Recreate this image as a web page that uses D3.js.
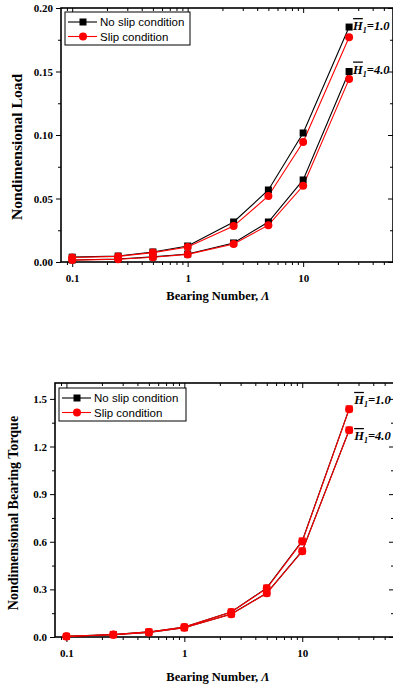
<!DOCTYPE html>
<html>
<head>
<meta charset="utf-8">
<script src="https://cdn.jsdelivr.net/npm/d3@7/dist/d3.min.js"></script>
<style>
  body { margin: 0; background: #fff; }
  svg { display: block; }
  .tick-label { font-family: "Liberation Serif", serif; font-weight: bold; font-size: 11px; fill: #000; }
  .axis-title { font-family: "Liberation Serif", serif; font-weight: bold; font-size: 12.5px; fill: #000; }
  .legend-text { font-family: "Liberation Sans", Arial, sans-serif; font-size: 11.5px; fill: #000; }
  .note { font-family: "Liberation Serif", serif; font-weight: bold; font-style: italic; font-size: 12.5px; fill: #000; }
</style>
</head>
<body>
<svg id="chart" width="393" height="685"></svg>
<script>
// Bearing numbers (x, log scale)
var bearingNumber = [0.1, 0.25, 0.5, 1, 2.5, 5, 10, 25];

// Nondimensional load
var loadNoSlipH1 = [0.0038, 0.0047, 0.0079, 0.0126, 0.0315, 0.0567, 0.1016, 0.185];
var loadSlipH1   = [0.0035, 0.0044, 0.0074, 0.0118, 0.0283, 0.052, 0.0945, 0.177];
var loadNoSlipH4 = [0.0016, 0.0024, 0.004, 0.0063, 0.015, 0.0315, 0.0646, 0.150];
var loadSlipH4   = [0.0015, 0.0022, 0.0037, 0.006, 0.0142, 0.029, 0.060, 0.144];

// Nondimensional bearing torque
var torqueNoSlipH1 = [0.004, 0.016, 0.032, 0.063, 0.158, 0.309, 0.605, 1.437];
var torqueSlipH1   = [0.004, 0.016, 0.032, 0.063, 0.157, 0.307, 0.602, 1.435];
var torqueNoSlipH4 = [0.003, 0.014, 0.029, 0.058, 0.145, 0.277, 0.542, 1.304];
var torqueSlipH4   = [0.003, 0.014, 0.029, 0.058, 0.144, 0.275, 0.540, 1.302];

var xTicks = [0.1, 1, 10];
var xTickLabels = ['0.1', '1', '10'];
var loadTicks = [0, 0.05, 0.10, 0.15, 0.20];
var loadTickLabels = ['0.00', '0.05', '0.10', '0.15', '0.20'];
var torqueTicks = [0, 0.3, 0.6, 0.9, 1.2, 1.5];
var torqueTickLabels = ['0.0', '0.3', '0.6', '0.9', '1.2', '1.5'];

var legendLabels = ['No slip condition', 'Slip condition'];

var svg = d3.select('#chart');

// minor ticks on the log axis: 2..9 of every decade inside the domain
function logMinors(domain) {
	var out = [];
	for (var e = -2; e <= 2; e++) {
		for (var m = 2; m <= 9; m++) {
			var v = m * Math.pow(10, e);
			if (v > domain[0] && v < domain[1]) out.push(v);
		}
	}
	return out;
}

function drawPanel(p) {
	var x = d3.scaleLog().domain([0.08, 60]).range(p.xRange);
	var y = d3.scaleLinear().domain(p.yDomain).range(p.yRange);
	var g = svg.append('g');
	var x0 = p.xRange[0], x1 = p.xRange[1], y0 = p.yRange[0], y1 = p.yRange[1];
	var yMinors = d3.range(p.yDomain[0] + p.yMinorStep, p.yDomain[1], p.yMinorStep * 2);

	// bottom axis (outward ticks) and top axis (inward ticks)
	var bottom = d3.axisBottom(x).tickValues(xTicks).tickSize(5).tickFormat(function(d, i) { return xTickLabels[i]; });
	var gb = g.append('g').attr('transform', 'translate(0,' + y0 + ')').call(bottom);
	g.append('g').attr('transform', 'translate(0,' + y0 + ')')
		.call(d3.axisBottom(x).tickValues(logMinors(x.domain())).tickSize(3).tickFormat(''));
	g.append('g').attr('transform', 'translate(0,' + y1 + ')')
		.call(d3.axisBottom(x).tickValues(xTicks).tickSize(5).tickFormat(''));
	g.append('g').attr('transform', 'translate(0,' + y1 + ')')
		.call(d3.axisBottom(x).tickValues(logMinors(x.domain())).tickSize(3).tickFormat(''));

	// left axis (outward) and right axis (inward)
	var left = d3.axisLeft(y).tickValues(p.yTicks).tickSize(5).tickFormat(function(d, i) { return p.yTickLabels[i]; });
	g.append('g').attr('transform', 'translate(' + x0 + ',0)').call(left);
	g.append('g').attr('transform', 'translate(' + x0 + ',0)')
		.call(d3.axisLeft(y).tickValues(yMinors).tickSize(3).tickFormat(''));
	g.append('g').attr('transform', 'translate(' + x1 + ',0)')
		.call(d3.axisLeft(y).tickValues(p.yTicks).tickSize(5).tickFormat(''));
	g.append('g').attr('transform', 'translate(' + x1 + ',0)')
		.call(d3.axisLeft(y).tickValues(yMinors).tickSize(3).tickFormat(''));

	g.selectAll('.domain').remove();
	g.selectAll('.tick line').attr('stroke', '#000').attr('stroke-width', 1);
	g.selectAll('.tick text').attr('class', 'tick-label').attr('font-size', null).attr('font-family', null);
	gb.selectAll('.tick text').attr('dy', '1.05em');

	// frame
	g.append('rect').attr('x', x0).attr('y', y1).attr('width', x1 - x0).attr('height', y0 - y1)
		.attr('fill', 'none').attr('stroke', '#000').attr('stroke-width', 1.6);

	var line = d3.line().x(function(d, i) { return x(bearingNumber[i]); }).y(function(d) { return y(d); });

	// series: no slip (black squares) under slip (red circles)
	p.series.forEach(function(s) {
		g.append('path').datum(s.values).attr('d', line)
			.attr('fill', 'none').attr('stroke', s.color).attr('stroke-width', 1.1);
	});
	p.series.forEach(function(s) {
		var marks = g.selectAll(null).data(s.values).enter();
		if (s.shape === 'square') {
			marks.append('rect')
				.attr('x', function(d, i) { return x(bearingNumber[i]) - 3.5; })
				.attr('y', function(d) { return y(d) - 3.5; })
				.attr('width', 7).attr('height', 7)
				.attr('fill', s.markerFill);
		} else {
			marks.append('circle')
				.attr('cx', function(d, i) { return x(bearingNumber[i]); })
				.attr('cy', function(d) { return y(d); })
				.attr('r', 4).attr('fill', s.markerFill);
		}
	});

	// H notes
	p.notes.forEach(function(n) {
		var t = g.append('text').attr('class', 'note')
			.attr('x', x(25) + n.dx).attr('y', y(n.value) + n.dy);
		t.append('tspan').text('H').style('text-decoration', 'overline');
		t.append('tspan').text('1').style('font-size', '8px').attr('dy', 3);
		t.append('tspan').text('=' + n.label).attr('dy', -3);
	});

	// legend
	var lg = g.append('g').attr('transform', 'translate(' + p.legend[0] + ',' + p.legend[1] + ')');
	lg.append('rect').attr('width', p.legendW).attr('height', 33)
		.attr('fill', '#fff').attr('stroke', '#000').attr('stroke-width', 1);
	[{c: '#000', shape: 'square'}, {c: '#f00', shape: 'circle'}].forEach(function(k, i) {
		var ly = 10 + i * 14.5;
		lg.append('line').attr('x1', 3).attr('x2', 32).attr('y1', ly).attr('y2', ly)
			.attr('stroke', k.c).attr('stroke-width', 1.1);
		if (k.shape === 'square') {
			lg.append('rect').attr('x', 14.5).attr('y', ly - 3.5).attr('width', 7).attr('height', 7).attr('fill', k.c);
		} else {
			lg.append('circle').attr('cx', 18).attr('cy', ly).attr('r', 4).attr('fill', k.c);
		}
		lg.append('text').attr('class', 'legend-text').attr('x', 35).attr('y', ly + 4).text(legendLabels[i]);
	});

	// axis titles
	var title = g.append('text').attr('class', 'axis-title').attr('text-anchor', 'middle')
		.attr('x', p.xTitle[0]).attr('y', p.xTitle[1]);
	title.append('tspan').text('Bearing Number, ');
	title.append('tspan').text('Λ').style('font-style', 'italic');
	g.append('text').attr('class', 'axis-title').attr('text-anchor', 'middle')
		.style('font-size', p.yTitleSize)
		.attr('transform', 'translate(' + p.yTitle[0] + ',' + p.yTitle[1] + ') rotate(-90)')
		.text(p.yTitleText);
}

drawPanel({
	xRange: [61, 393], yRange: [262, 8], yDomain: [0, 0.2],
	yTicks: loadTicks, yTickLabels: loadTickLabels, yMinorStep: 0.025,
	series: [
		{values: loadNoSlipH1, color: '#000', shape: 'square', markerFill: '#000'},
		{values: loadNoSlipH4, color: '#000', shape: 'square', markerFill: '#000'},
		{values: loadSlipH1, color: '#f00', shape: 'circle', markerFill: '#f00'},
		{values: loadSlipH4, color: '#f00', shape: 'circle', markerFill: '#f00'}
	],
	notes: [{value: 0.185, label: '1.0', dx: 4, dy: 3}, {value: 0.150, label: '4.0', dx: 4, dy: 2}],
	legend: [65, 12], legendW: 125,
	xTitle: [218, 300], yTitle: [22, 147], yTitleSize: '15.5px', yTitleText: 'Nondimensional Load'
});

drawPanel({
	xRange: [55, 394], yRange: [637, 383], yDomain: [0, 1.6],
	yTicks: torqueTicks, yTickLabels: torqueTickLabels, yMinorStep: 0.15,
	series: [
		{values: torqueNoSlipH1, color: '#000', shape: 'square', markerFill: '#e00'},
		{values: torqueNoSlipH4, color: '#000', shape: 'square', markerFill: '#e00'},
		{values: torqueSlipH1, color: '#f00', shape: 'circle', markerFill: '#f00'},
		{values: torqueSlipH4, color: '#f00', shape: 'circle', markerFill: '#f00'}
	],
	notes: [{value: 1.437, label: '1.0', dx: 5, dy: -5}, {value: 1.304, label: '4.0', dx: 5, dy: 10}],
	legend: [59, 388], legendW: 127,
	xTitle: [218, 681], yTitle: [18, 513], yTitleSize: '14px', yTitleText: 'Nondimensional Bearing Torque'
});
</script>
</body>
</html>
